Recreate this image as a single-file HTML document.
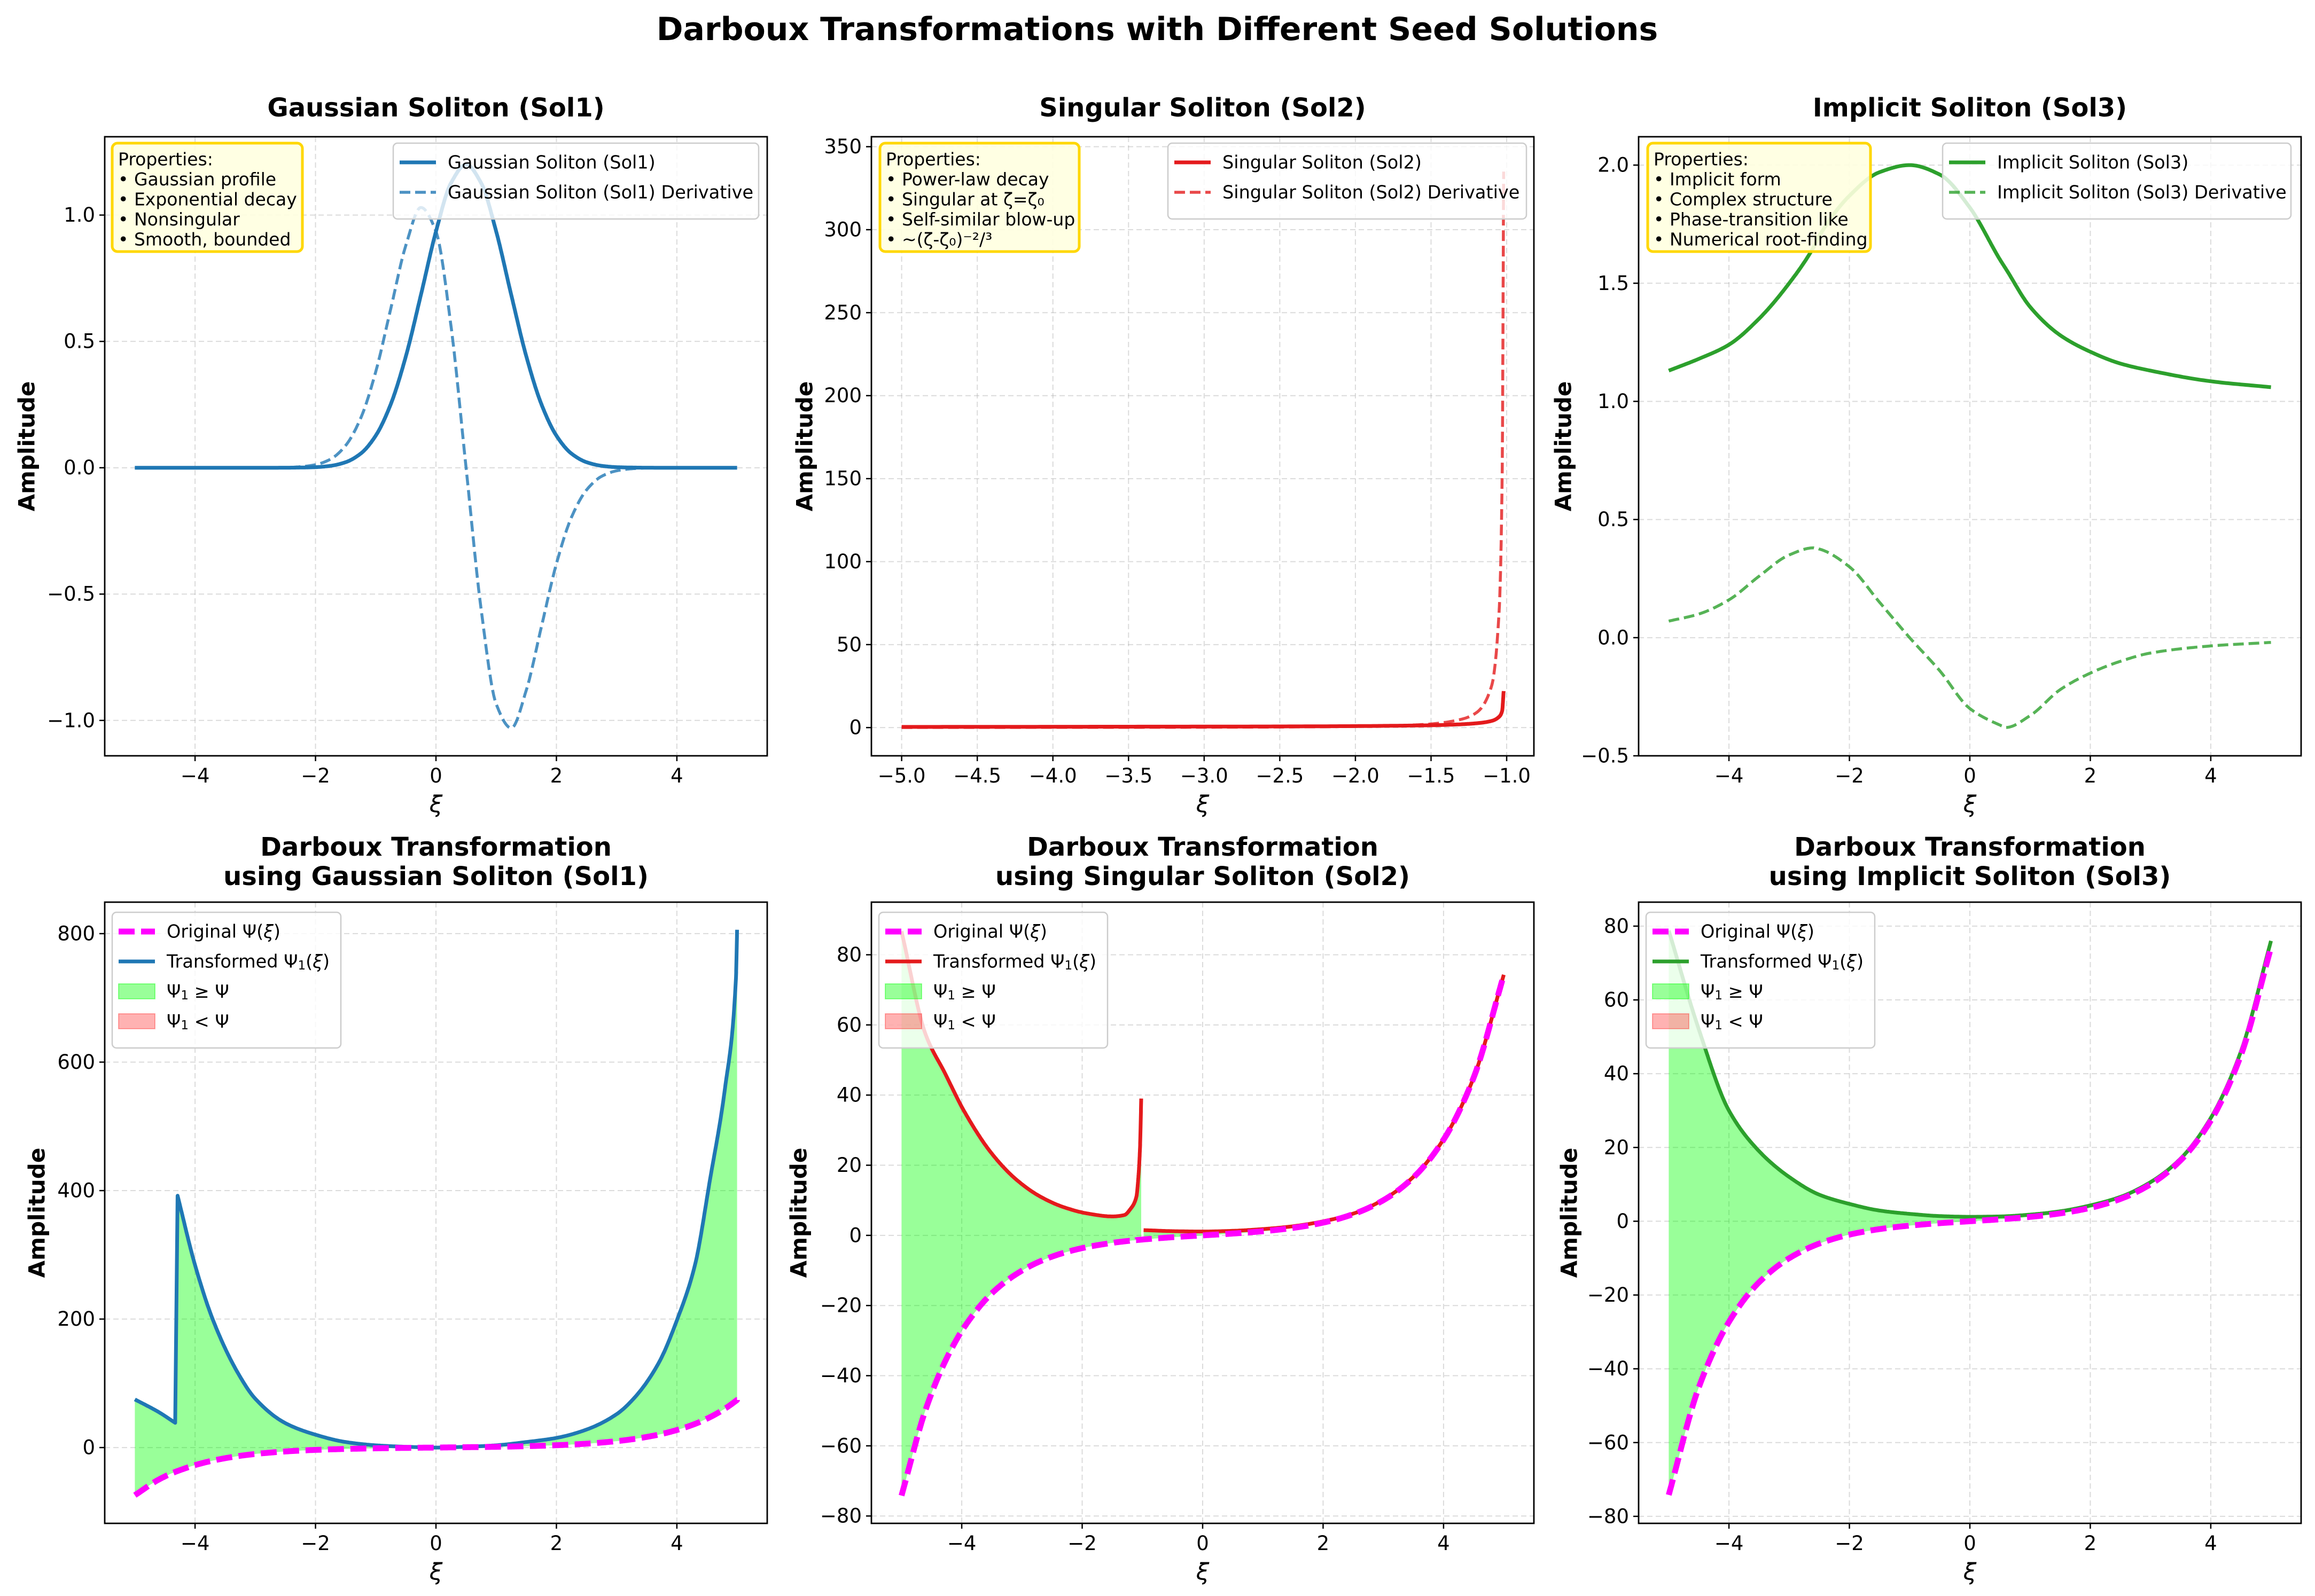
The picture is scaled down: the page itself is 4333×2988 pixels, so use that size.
<!DOCTYPE html>
<html><head><meta charset="utf-8"><title>Darboux Transformations</title>
<style>
html,body{margin:0;padding:0;background:#fff;}
svg{display:block;font-family:"DejaVu Sans","Liberation Sans",sans-serif;}
</style></head>
<body>
<svg id="fig" xmlns="http://www.w3.org/2000/svg" width="4333" height="2988" viewBox="0 0 4333 2988">
<rect x="0" y="0" width="4333" height="2988" fill="#ffffff"/>
<text x="2166" y="55" text-anchor="middle" dominant-baseline="central" font-size="60" font-weight="bold">Darboux Transformations with Different Seed Solutions</text>
</svg>
<script>
// ---------- data ----------
const sol1X = [-5,-4.5,-4,-3.5,-3,-2.5,-2.25,-2,-1.75,-1.5,-1.25,-1,-0.75,-0.5,-0.25,0,0.25,0.5,0.75,1,1.25,1.5,1.75,2,2.25,2.5,2.75,3,3.25,3.5,4,4.5,5];
const sol1Y = [0,0,0,0,0,0.0002,0.0008,0.0023,0.0076,0.022,0.056,0.127,0.252,0.441,0.684,0.935,1.127,1.2,1.127,0.935,0.684,0.441,0.252,0.127,0.056,0.022,0.0076,0.0023,0.0008,0.0002,0,0,0];
const sol1D = [0,0,0,0,0,0.001,0.004,0.012,0.034,0.088,0.196,0.38,0.63,0.88,1.03,0.935,0.56,0,-0.56,-0.935,-1.03,-0.88,-0.63,-0.38,-0.196,-0.088,-0.034,-0.012,-0.004,-0.001,0,0,0];

const sol2X = [-5,-4.5,-4,-3.5,-3,-2.5,-2,-1.75,-1.5,-1.3,-1.2,-1.1,-1.05,-1.03,-1.02];
const sol2Y = [0.4,0.45,0.5,0.55,0.6,0.7,0.9,1.1,1.4,2,2.6,4,6.5,10,22];
const sol2D = [0.07,0.09,0.12,0.16,0.22,0.35,0.7,1.1,2.2,5,9,25,70,150,335];

const sol3X = [-5,-4.5,-4,-3.5,-3,-2.6,-2.5,-2,-1.5,-1,-0.5,0,0.5,0.6,1,1.5,2,2.5,3,4,5];
const sol3Y = [1.13,1.18,1.24,1.35,1.5,1.65,1.7,1.87,1.97,2.0,1.96,1.82,1.6,1.56,1.4,1.28,1.21,1.16,1.13,1.085,1.06];
const sol3D = [0.07,0.1,0.16,0.26,0.35,0.38,0.375,0.3,0.15,0.0,-0.14,-0.3,-0.37,-0.38,-0.33,-0.22,-0.15,-0.1,-0.065,-0.035,-0.02];

const dt1X = [-5,-4.6,-4.33,-4.29,-4,-3.7,-3.3,-3,-2.5,-2,-1.5,-1,-0.5,0,0.5,1,1.5,2,2.5,3,3.3,3.7,4,4.3,4.55,4.8,4.98,5];
const dt1T = [75,55,38.5,392,284,198,118,76,38,20,8.6,3.5,1.2,0,1.2,3.5,8.6,15,28,52,78,132,198,284,417,560,729,806];
const dt1P = [-74.2,-49.7,-37.9,-36.5,-27.3,-20.2,-13.5,-10.0,-6.05,-3.63,-2.13,-1.18,-0.52,0,0.52,1.18,2.13,3.63,6.05,10.0,13.5,20.2,27.3,36.8,47.3,60.7,72.7,74.2];
const dt1Break = 3; // index where the transformed curve jumps (connected)

const dt2X = [-5,-4.6,-4.28,-3.96,-3.5,-3.1,-2.7,-2.3,-1.9,-1.5,-1.3,-1.2,-1.1,-1.07,-1.04,-1.02,-0.98,-0.5,0,0.5,1,1.5,2,2.5,3,3.5,4,4.5,5];
const dt2T = [86.7,57.3,46.3,35.4,23.3,16,11.1,8,6.2,5.4,5.8,7.5,11,16,25,39,1.5,1.2,1.1,1.3,1.8,2.6,4,6.2,10.2,16.7,27.4,45,74.3];
const dt2P = [-74.2,-49.7,-36.1,-26.2,-16.5,-11.1,-7.4,-4.94,-3.27,-2.13,-1.70,-1.51,-1.34,-1.29,-1.24,-1.21,-1.15,-0.52,0,0.52,1.18,2.13,3.63,6.05,10.02,16.54,27.29,45.0,74.2];
const dt2Break = 16; // index where the transformed curve is broken (gap)

const dt3X = [-5,-4.5,-4,-3.5,-3,-2.5,-2,-1.5,-1,-0.5,0,0.5,1,1.5,2,2.5,3,3.5,4,4.5,5];
const dt3T = [78.8,52,30,19,12,7.2,4.7,2.9,2,1.4,1.2,1.3,1.8,2.7,4.3,6.6,10.6,17,28,46,76];
const dt3P = [-74.2,-45.0,-27.29,-16.54,-10.02,-6.05,-3.63,-2.13,-1.18,-0.52,0,0.52,1.18,2.13,3.63,6.05,10.02,16.54,27.29,45.0,74.2];

const xTicksStd = [-4,-2,0,2,4];
const xTicksSol2 = [-5,-4.5,-4,-3.5,-3,-2.5,-2,-1.5,-1];
const yTicks1 = [-1,-0.5,0,0.5,1];
const yTicks2 = [0,50,100,150,200,250,300,350];
const yTicks3 = [-0.5,0,0.5,1,1.5,2];
const yTicks4 = [0,200,400,600,800];
const yTicks56 = [-80,-60,-40,-20,0,20,40,60,80];

// ---------- drawing ----------
const NS = "http://www.w3.org/2000/svg";
const svg = document.getElementById('fig');
function mk(tag, attrs, parent){
  const e = document.createElementNS(NS, tag);
  for (const k in attrs) e.setAttribute(k, attrs[k]);
  (parent||svg).appendChild(e);
  return e;
}
function fmt(v, dec){ return v.toFixed(dec).replace('-', '\u2212'); }
function makeAxes(o){
  const ax = Object.assign({}, o);
  ax.sx = v => ax.x0 + (v - ax.xmin)/(ax.xmax - ax.xmin)*ax.w;
  ax.sy = v => ax.y0 + (ax.ymax - v)/(ax.ymax - ax.ymin)*ax.h;
  const g = mk('g', {});
  
  
  ax.g = g;
  const cp = mk('clipPath', {id: o.name + '-clip'}, g);
  mk('rect', {x: ax.x0, y: ax.y0, width: ax.w, height: ax.h}, cp);
  o.xticks.forEach(t => {
    const l = mk('line', {x1: ax.sx(t), x2: ax.sx(t), y1: ax.y0, y2: ax.y0+ax.h, stroke:'#b0b0b0', 'stroke-opacity':0.45, 'stroke-width':2, 'stroke-dasharray':'10,6'}, g);
    
    
  });
  o.yticks.forEach(t => {
    const l = mk('line', {x1: ax.x0, x2: ax.x0+ax.w, y1: ax.sy(t), y2: ax.sy(t), stroke:'#b0b0b0', 'stroke-opacity':0.45, 'stroke-width':2, 'stroke-dasharray':'10,6'}, g);
    
    
  });
  ax.plot = mk('g', {'clip-path': 'url(#' + o.name + '-clip)'}, g);
  
  
  return ax;
}
function finishAxes(ax, o){
  const g = ax.g;
  const fr = mk('rect', {x: ax.x0, y: ax.y0, width: ax.w, height: ax.h, fill:'none', stroke:'#000', 'stroke-width':2.8}, g);
  
  
  o.xticks.forEach(t => {
    const X = ax.sx(t);
    mk('line', {x1:X, x2:X, y1:ax.y0+ax.h, y2:ax.y0+ax.h+10, stroke:'#000', 'stroke-width':2.5}, g);
    const tx = mk('text', {x:X, y:ax.y0+ax.h+50, 'text-anchor':'middle', 'font-size':37, fill:'#000'}, g);
    tx.textContent = fmt(t, o.xdec);
    
    
  });
  o.yticks.forEach(t => {
    const Y = ax.sy(t);
    mk('line', {x1:ax.x0-10, x2:ax.x0, y1:Y, y2:Y, stroke:'#000', 'stroke-width':2.5}, g);
    const tx = mk('text', {x:ax.x0-18, y:Y, 'text-anchor':'end', 'dominant-baseline':'central', 'font-size':37, fill:'#000'}, g);
    tx.textContent = fmt(t, o.ydec);
    
    
  });
  const xl = mk('text', {x: ax.x0+ax.w/2, y: o.xlabelY, 'text-anchor':'middle', 'dominant-baseline':'central', 'font-size':44, 'font-style':'italic'}, g);
  xl.textContent = 'ξ';
  
  
  const yl = mk('text', {x: o.ylabelX, y: ax.y0+ax.h/2, 'text-anchor':'middle', 'dominant-baseline':'central', 'font-size':42, 'font-weight':'bold', transform:'rotate(-90 ' + o.ylabelX + ' ' + (ax.y0+ax.h/2) + ')'}, g);
  yl.textContent = 'Amplitude';
  
  
  o.title.forEach((line, i) => {
    const t = mk('text', {x: ax.x0+ax.w/2, y: o.titleY[i], 'text-anchor':'middle', 'dominant-baseline':'central', 'font-size':48, 'font-weight':'bold'}, g);
    t.textContent = line;
    
    
  });
}
// Monotone cubic (Fritsch-Carlson) in data space, sampled densely
function densify(xs, ys){
  const n = xs.length;
  if (n < 3) return xs.map((x,i)=>[x,ys[i]]);
  const d = [], m = new Array(n);
  for (let i=0;i<n-1;i++) d.push((ys[i+1]-ys[i])/(xs[i+1]-xs[i]));
  m[0]=d[0]; m[n-1]=d[n-2];
  for (let i=1;i<n-1;i++){
    if (d[i-1]*d[i] <= 0) m[i]=0;
    else { const w1 = 2*(xs[i+1]-xs[i])+(xs[i]-xs[i-1]), w2 = (xs[i+1]-xs[i])+2*(xs[i]-xs[i-1]); m[i]=(w1+w2)/(w1/d[i-1]+w2/d[i]); }
  }
  const out = [];
  for (let i=0;i<n-1;i++){
    const h = xs[i+1]-xs[i];
    const steps = 24;
    for (let k=0;k<steps;k++){
      const t = k/steps, t2=t*t, t3=t2*t;
      const y = (2*t3-3*t2+1)*ys[i] + (t3-2*t2+t)*h*m[i] + (-2*t3+3*t2)*ys[i+1] + (t3-t2)*h*m[i+1];
      out.push([xs[i]+t*h, y]);
    }
  }
  out.push([xs[n-1], ys[n-1]]);
  return out;
}
function pathFrom(ax, pts){
  return 'M' + pts.map(p => ax.sx(p[0]).toFixed(1) + ',' + ax.sy(p[1]).toFixed(1)).join('L');
}
function curve(xs, ys, breaks){
  // breaks: indices where a new smooth piece starts (connected by straight line)
  let pts = [], start = 0;
  (breaks||[]).concat([xs.length]).forEach(b => {
    pts = pts.concat(densify(xs.slice(start,b), ys.slice(start,b)));
    start = b;
  });
  return pts;
}
function drawLine(ax, pts, style, name){
  const p = mk('path', Object.assign({d: pathFrom(ax, pts), fill:'none', 'stroke-linejoin':'round'}, style), ax.plot);
  
  
  return p;
}
function drawFill(ax, top, bot, name){
  const d = pathFrom(ax, top) + 'L' + bot.slice().reverse().map(p => ax.sx(p[0]).toFixed(1) + ',' + ax.sy(p[1]).toFixed(1)).join('L') + 'Z';
  const p = mk('path', {d: d, fill:'#00ff00', 'fill-opacity':0.4, stroke:'none'}, ax.plot);
  
  
}
function propsBox(x, y, w, h, lines){
  const g = mk('g', {});
  
  
  mk('rect', {x:x, y:y, width:w, height:h, rx:10, fill:'#ffffe0', 'fill-opacity':0.9, stroke:'#ffd700', 'stroke-width':5}, g);
  lines.forEach((s, i) => {
    const t = mk('text', {x:x+11, y:y+30+i*37.5, 'font-size':33, 'dominant-baseline':'central'}, g);
    t.textContent = s;
    
    
  });
}
function legend(x, y, w, entries){
  const g = mk('g', {});
  
  
  const h = 24 + entries.length*56 + 6;
  mk('rect', {x:x, y:y, width:w, height:h, rx:8, fill:'#fff', 'fill-opacity':0.8, stroke:'#cccccc', 'stroke-width':2.5}, g);
  entries.forEach((e, i) => {
    const cy = y + 36 + i*56;
    const eg = mk('g', {}, g);
    
    
    if (e.type === 'line'){
      mk('line', {x1:x+12, x2:x+80, y1:cy, y2:cy, stroke:e.color, 'stroke-width':e.lw, 'stroke-dasharray':e.dash||'', 'stroke-opacity':e.op||1}, eg);
    } else {
      mk('rect', {x:x+12, y:cy-14, width:68, height:28, fill:e.color, 'fill-opacity':e.op, stroke:e.color, 'stroke-opacity':e.op, 'stroke-width':2}, eg);
    }
    const t = mk('text', {x:x+102, y:cy, 'font-size':33.5, 'dominant-baseline':'central'}, eg);
    t.innerHTML = e.label;
  });
}

const TOP = {y0:256, h:1159, titleY:[202], xlabelY:1506};
const BOT = {y0:1689, h:1163, titleY:[1586,1641], xlabelY:2943};
const COLS = [196, 1631, 3067];
const W = 1240;

// ---- Panel 1 ----
let o = Object.assign({}, TOP, {name:'gaussian-panel', x0:COLS[0], w:W, xmin:-5.5, xmax:5.5, ymin:-1.14, ymax:1.31, xticks:xTicksStd, yticks:yTicks1, xdec:0, ydec:1, ylabelX:50, title:['Gaussian Soliton (Sol1)']});
let ax = makeAxes(o);
drawLine(ax, curve(sol1X, sol1D), {stroke:'#1f77b4', 'stroke-opacity':0.8, 'stroke-width':5.5, 'stroke-dasharray':'20,9'}, 'gaussian-derivative-line');
drawLine(ax, curve(sol1X, sol1Y), {stroke:'#1f77b4', 'stroke-width':7}, 'gaussian-line');
finishAxes(ax, o);
propsBox(210, 268, 356, 203, ['Properties:','• Gaussian profile','• Exponential decay','• Nonsingular','• Smooth, bounded']);
legend(736, 268, 684, [{type:'line',color:'#1f77b4',lw:7,label:'Gaussian Soliton (Sol1)'},{type:'line',color:'#1f77b4',lw:5.5,dash:'20,9',op:0.8,label:'Gaussian Soliton (Sol1) Derivative'}]);

// ---- Panel 2 ----
o = Object.assign({}, TOP, {name:'singular-panel', x0:COLS[1], w:W, xmin:-5.2, xmax:-0.82, ymin:-17, ymax:356, xticks:xTicksSol2, yticks:yTicks2, xdec:1, ydec:0, ylabelX:1506, title:['Singular Soliton (Sol2)']});
ax = makeAxes(o);
drawLine(ax, curve(sol2X, sol2D), {stroke:'#e41a1c', 'stroke-opacity':0.8, 'stroke-width':5.5, 'stroke-dasharray':'20,9'}, 'singular-derivative-line');
drawLine(ax, curve(sol2X, sol2Y), {stroke:'#e41a1c', 'stroke-width':7}, 'singular-line');
finishAxes(ax, o);
propsBox(1647, 268, 373, 203, ['Properties:','• Power-law decay','• Singular at ζ=ζ₀','• Self-similar blow-up','• ~(ζ-ζ₀)⁻²/³']);
legend(2186, 268, 671, [{type:'line',color:'#e41a1c',lw:7,label:'Singular Soliton (Sol2)'},{type:'line',color:'#e41a1c',lw:5.5,dash:'20,9',op:0.8,label:'Singular Soliton (Sol2) Derivative'}]);

// ---- Panel 3 ----
o = Object.assign({}, TOP, {name:'implicit-panel', x0:COLS[2], w:W, xmin:-5.5, xmax:5.5, ymin:-0.5, ymax:2.12, xticks:xTicksStd, yticks:yTicks3, xdec:0, ydec:1, ylabelX:2926, title:['Implicit Soliton (Sol3)']});
ax = makeAxes(o);
drawLine(ax, curve(sol3X, sol3D), {stroke:'#2ca02c', 'stroke-opacity':0.8, 'stroke-width':5.5, 'stroke-dasharray':'20,9'}, 'implicit-derivative-line');
drawLine(ax, curve(sol3X, sol3Y), {stroke:'#2ca02c', 'stroke-width':7}, 'implicit-line');
finishAxes(ax, o);
propsBox(3084, 268, 417, 203, ['Properties:','• Implicit form','• Complex structure','• Phase-transition like','• Numerical root-finding']);
legend(3636, 268, 652, [{type:'line',color:'#2ca02c',lw:7,label:'Implicit Soliton (Sol3)'},{type:'line',color:'#2ca02c',lw:5.5,dash:'20,9',op:0.8,label:'Implicit Soliton (Sol3) Derivative'}]);

// ---- bottom panels ----
function bottomLegend(x, color){
  legend(x, 1708, 428, [
    {type:'line',color:'#ff00ff',lw:11,dash:'30,12',label:'Original Ψ(<tspan font-style="italic">ξ</tspan>)'},
    {type:'line',color:color,lw:7,label:'Transformed Ψ<tspan font-size="23" dy="8">1</tspan><tspan dy="-8">(</tspan><tspan font-style="italic">ξ</tspan>)'},
    {type:'rect',color:'#00ff00',op:0.4,label:'Ψ<tspan font-size="23" dy="8">1</tspan><tspan dy="-8"> ≥ Ψ</tspan>'},
    {type:'rect',color:'#ff0000',op:0.3,label:'Ψ<tspan font-size="23" dy="8">1</tspan><tspan dy="-8"> &lt; Ψ</tspan>'}
  ]);
}
function bottomPanel(name, col, ymin, ymax, yt, ylabelX, title, xs, T, P, jump, gap, color){
  const oo = Object.assign({}, BOT, {name:name, x0:COLS[col], w:W, xmin:-5.5, xmax:5.5, ymin:ymin, ymax:ymax, xticks:xTicksStd, yticks:yt, xdec:0, ydec:0, ylabelX:ylabelX, title:['Darboux Transformation', title]});
  const a = makeAxes(oo);
  const pieces = gap ? [[0,gap],[gap,xs.length]] : [[0,xs.length]];
  pieces.forEach(s => {
    const px = xs.slice(s[0],s[1]);
    const br = (jump && jump > s[0] && jump < s[1]) ? [jump - s[0]] : [];
    const top = curve(px, T.slice(s[0],s[1]), br);
    const bot = curve(px, P.slice(s[0],s[1]));
    drawFill(a, top, bot, 'fill-psi1-ge-psi');
    drawLine(a, top, {stroke:color, 'stroke-width':7}, 'transformed-line');
  });
  drawLine(a, curve(xs, P), {stroke:'#ff00ff', 'stroke-width':11, 'stroke-dasharray':'30,12'}, 'original-line');
  finishAxes(a, oo);
  bottomLegend(COLS[col]+14, color);
}
bottomPanel('darboux-gaussian-panel', 0, -118, 849, yTicks4, 69, 'using Gaussian Soliton (Sol1)', dt1X, dt1T, dt1P, dt1Break, 0, '#1f77b4');
bottomPanel('darboux-singular-panel', 1, -82.1, 95, yTicks56, 1495, 'using Singular Soliton (Sol2)', dt2X, dt2T, dt2P, 0, dt2Break, '#e41a1c');
bottomPanel('darboux-implicit-panel', 2, -81.9, 86.5, yTicks56, 2937, 'using Implicit Soliton (Sol3)', dt3X, dt3T, dt3P, 0, 0, '#2ca02c');
</script>
</body></html>
